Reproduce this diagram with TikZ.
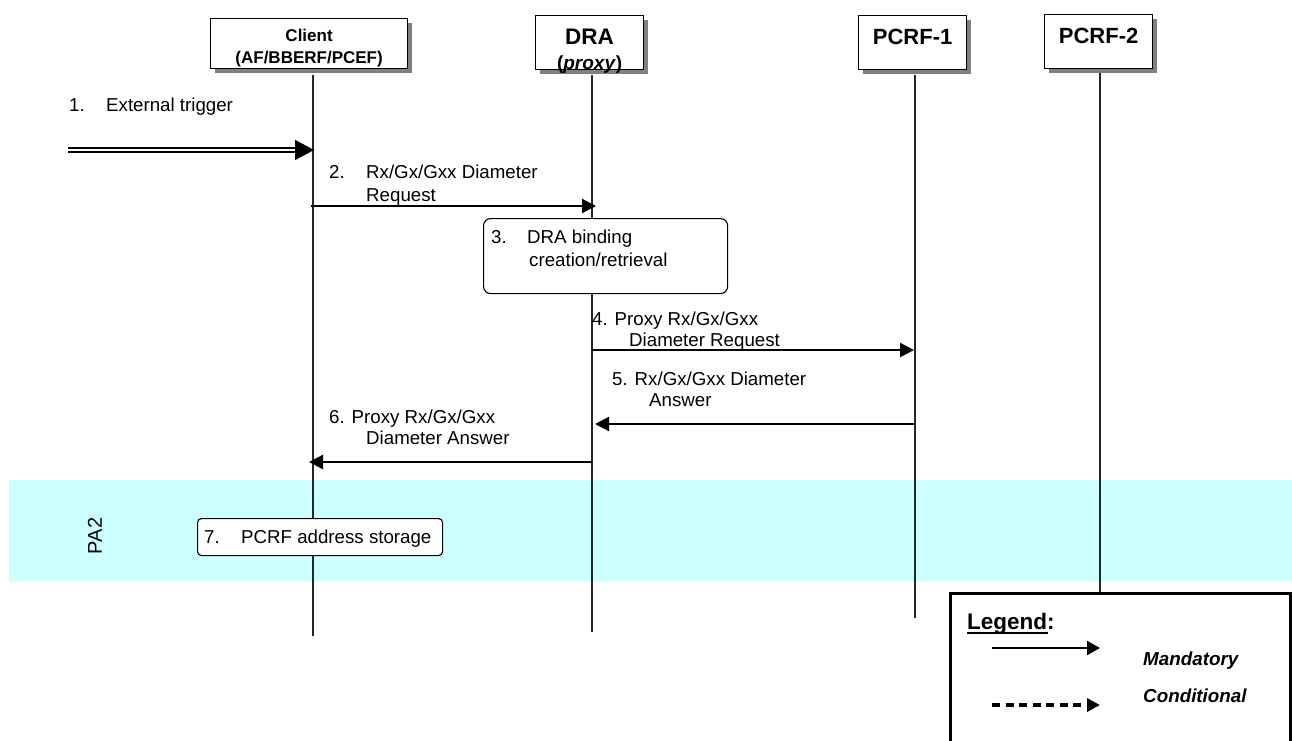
\documentclass[tikz,border=0pt]{standalone}
\usepackage{fontspec}
\setmainfont{Liberation Sans}
\usetikzlibrary{arrows.meta,shadows}
\definecolor{band}{HTML}{CCFFFF}
\newcommand{\stepno}[2]{\makebox[#1pt][l]{#2}}
\tikzset{
  x=1pt,y=-1pt,
  actor/.style={draw=black,line width=1.2pt,fill=white,anchor=north west,inner sep=0pt,align=center,
    drop shadow={shadow xshift=4pt,shadow yshift=-4pt,fill=black!50,opacity=1}},
  lifeline/.style={draw=black!85,line width=1.2pt},
  msg/.style={draw=black,line width=2.3pt,-{Triangle[length=14pt,width=14pt]}},
  lbl/.style={anchor=base west,inner sep=0pt,align=left,font=\fontsize{18.7}{22.5}\selectfont},
  lblb/.style={lbl,font=\fontsize{18.7}{21}\selectfont},
  action/.style={draw=black,line width=1.1pt,fill=white,rounded corners=7pt,anchor=north west,inner sep=0pt},
}
\begin{document}
\begin{tikzpicture}
\useasboundingbox (0,0) rectangle (1292,740);
\clip (0,0) rectangle (1292,740);
\fill[white] (0,0) rectangle (1292,740);
% band
\node[fill=band,anchor=north west,minimum width=1283pt,minimum height=101pt,inner sep=0pt] (bandbox) at (9,480) {};
\node[rotate=90,inner sep=0pt,font=\fontsize{20}{22}\selectfont] (pa) at (95,536) {PA2};
% actors
\node[actor,minimum width=197pt,minimum height=50pt,font=\bfseries\fontsize{17}{22}\selectfont] (client) at (210,18) {\rule{0pt}{21pt}Client\\(AF/BBERF/PCEF)};
\node[actor,minimum width=108pt,minimum height=54pt,font=\fontsize{20}{25}\selectfont] (dra) at (535,15) {\rule{0pt}{28pt}{\bfseries\fontsize{22.5}{25}\selectfont DRA}\\\smash{\bfseries\fontsize{19}{25}\selectfont (\textit{proxy})}};
\node[actor,minimum width=108pt,minimum height=54pt,font=\bfseries\fontsize{22}{24}\selectfont] (p1) at (858,15) {PCRF-1\rule[-11pt]{0pt}{11pt}};
\node[actor,minimum width=108pt,minimum height=54pt,font=\bfseries\fontsize{22}{24}\selectfont] (p2) at (1044,14) {PCRF-2\rule[-12pt]{0pt}{12pt}};
% lifeline ends
\coordinate (cT) at (313,75); \coordinate (cB) at (313,636);
\coordinate (dT) at (592,75); \coordinate (dB) at (592,632);
\coordinate (aT) at (915,75); \coordinate (aB) at (915,618);
\coordinate (bT) at (1100,73); \coordinate (bB) at (1100,592);
\draw[lifeline] (cT) -- (cB);
\draw[lifeline] (dT) -- (dB);
\draw[lifeline] (aT) -- (aB);
\draw[lifeline] (bT) -- (bB);
% messages
\coordinate (m1a) at (68,150); \coordinate (m1b) at (314,150);
\draw[draw=black,line width=2pt,double=white,double distance=2.4pt,-{Triangle[length=19pt,width=20pt]}] (m1a) -- (m1b);
\coordinate (m2a) at (311,206); \coordinate (m2b) at (596,206);
\draw[msg] (m2a) -- (m2b);
\coordinate (m4a) at (592,350); \coordinate (m4b) at (914,350);
\draw[msg] (m4a) -- (m4b);
\coordinate (m5a) at (915,424); \coordinate (m5b) at (595,424);
\draw[msg] (m5a) -- (m5b);
\coordinate (m6a) at (592,462); \coordinate (m6b) at (309,462);
\draw[msg] (m6a) -- (m6b);
% action boxes
\node[action,minimum width=244pt,minimum height=75pt] (act3) at (483,218) {};
\node[action,minimum width=245pt,minimum height=37pt,rounded corners=4pt] (act7) at (197,518) {};
% labels
\node[lbl] (l1) at (69,111) {\stepno{37}{1.}External trigger};
\node[lbl] (l2) at (329,201) {\stepno{37}{2.}Rx/Gx/Gxx Diameter\\\hspace*{37pt}Request};
\node[lbl] (l3) at (491,266) {\stepno{36}{3.}DRA binding\\\hspace*{38pt}creation/retrieval};
\node[lblb] (l4) at (592,346) {4. Proxy Rx/Gx/Gxx\\\hspace*{37pt}Diameter Request};
\node[lblb] (l5) at (612,406.5) {5. Rx/Gx/Gxx Diameter\\\hspace*{37pt}Answer};
\node[lblb] (l6) at (329,444) {6. Proxy Rx/Gx/Gxx\\\hspace*{37pt}Diameter Answer};
\node[lbl] (l7) at (204,543) {\stepno{37}{7.}PCRF address storage};
% legend
\node[draw=black,line width=3.4pt,fill=white,anchor=north west,inner sep=0pt,minimum width=340pt,minimum height=170pt,
  drop shadow={shadow xshift=3pt,shadow yshift=-3pt,fill=black!50,opacity=1}] (legend) at (949,592) {};
\node[anchor=base west,inner sep=0pt,font=\bfseries\fontsize{22.5}{26}\selectfont] (legendt) at (967,629) {\rlap{\rule[-4.5pt]{81pt}{1.8pt}}Legend:};
\coordinate (k1a) at (992,648); \coordinate (k1b) at (1100,648);
\draw[draw=black,line width=2.2pt,-{Triangle[length=13pt,width=14pt]}] (k1a) -- (k1b);
\coordinate (k2a) at (992,705); \coordinate (k2b) at (1100,705);
\draw[draw=black,line width=3.6pt,dash pattern=on 8pt off 5.5pt,-{Triangle[length=13pt,width=13pt]}] (k2a) -- (k2b);
\node[anchor=base west,inner sep=0pt,font=\bfseries\itshape\fontsize{18.8}{21}\selectfont] (k1t) at (1143,665) {Mandatory};
\node[anchor=base west,inner sep=0pt,font=\bfseries\itshape\fontsize{18.8}{21}\selectfont] (k2t) at (1143,702.5) {Conditional};
\end{tikzpicture}
\end{document}
